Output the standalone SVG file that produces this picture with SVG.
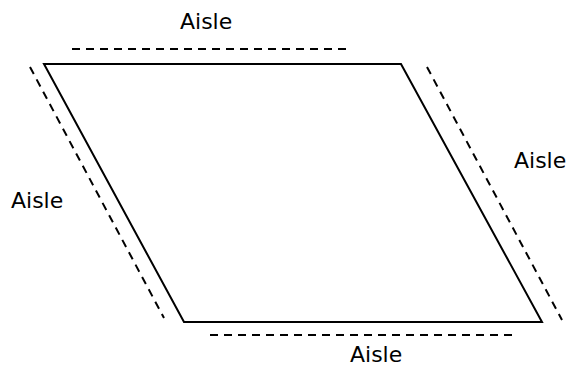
<svg xmlns="http://www.w3.org/2000/svg" width="572" height="370" viewBox="0 0 572 370">
<style>
.edge{stroke:#000;stroke-width:2;fill:none}
.dash{stroke:#000;stroke-width:2;fill:none;stroke-dasharray:8,6}
.lbl{font-family:"DejaVu Sans","Liberation Sans",sans-serif;font-size:22px;fill:#000}
</style>
<rect width="572" height="370" fill="#fff"/>
<g id="area">
<polygon class="edge" points="44,64 401,64 542,322 184,322"/>
</g>
<g id="connectors">
<line class="dash" x1="72" y1="49" x2="346" y2="49"/>
<line class="dash" x1="30" y1="67" x2="164" y2="318"/>
<line class="dash" x1="427" y1="67" x2="562" y2="320"/>
<line class="dash" x1="210" y1="335" x2="514" y2="335"/>
</g>
<g id="aisle-top"><text class="lbl" x="180" y="29">Aisle</text></g>
<g id="aisle-left"><text class="lbl" x="11" y="208">Aisle</text></g>
<g id="aisle-right"><text class="lbl" x="514" y="168">Aisle</text></g>
<g id="aisle-bottom"><text class="lbl" x="350" y="362">Aisle</text></g>
</svg>
